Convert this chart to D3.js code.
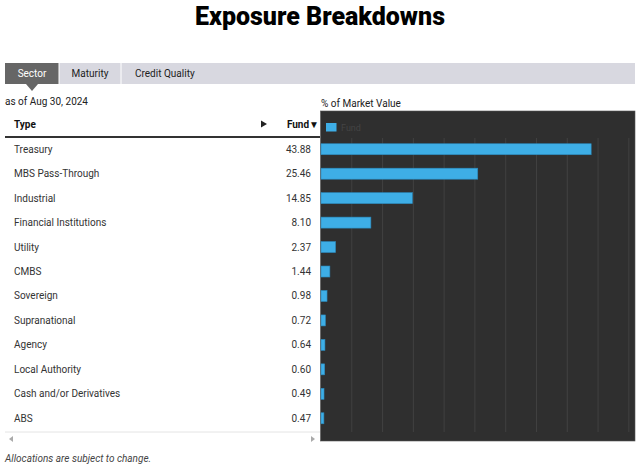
<!DOCTYPE html>
<html>
<head>
<meta charset="utf-8">
<script src="https://cdn.jsdelivr.net/npm/d3@7"></script>
<style>
  body { margin: 0; background: #fff; }
  svg text { font-family: Roboto, "Open Sans", sans-serif; }
</style>
</head>
<body>
<div class="exposure-chart"></div>
<script>
// data
const categories = ["Treasury", "MBS Pass-Through", "Industrial", "Financial Institutions", "Utility", "CMBS",
  "Sovereign", "Supranational", "Agency", "Local Authority", "Cash and/or Derivatives", "ABS"];
const fundValues = [43.88, 25.46, 14.85, 8.10, 2.37, 1.44, 0.98, 0.72, 0.64, 0.60, 0.49, 0.47];
const tabs = ["Sector", "Maturity", "Credit Quality"];
const gridTicks = [5, 10, 15, 20, 25, 30, 35, 40, 45, 50];

let outerWidth = 640, outerHeight = 466;
let svg = d3.select('.exposure-chart').append('svg')
  .attr('width', outerWidth)
  .attr('height', outerHeight);

// title
svg.append('text')
  .attr('x', 320).attr('y', 24.5)
  .attr('text-anchor', 'middle')
  .attr('font-size', 25).attr('font-weight', 900)
  .attr('fill', '#000')
  .text('Exposure Breakdowns');

// tab bar
svg.append('rect').attr('x', 5).attr('y', 63).attr('width', 630).attr('height', 21).attr('fill', '#d8d8e0');
const tabEdges = [5, 59, 121, 220];
tabs.forEach((t, i) => {
  let x0 = tabEdges[i], x1 = tabEdges[i + 1];
  if (i == 0) {
    svg.append('rect').attr('x', x0).attr('y', 63).attr('width', x1 - x0).attr('height', 21).attr('fill', '#666');
    svg.append('path').attr('d', `M${(x0 + x1) / 2 - 6},84 L${(x0 + x1) / 2 + 6},84 L${(x0 + x1) / 2},91 Z`).attr('fill', '#666');
  } else {
    svg.append('line').attr('x1', x0).attr('x2', x0).attr('y1', 63).attr('y2', 84).attr('stroke', '#fff');
  }
  svg.append('text')
    .attr('x', i == 2 ? x0 + 14 : (x0 + x1) / 2).attr('y', 77)
    .attr('text-anchor', i == 2 ? 'start' : 'middle')
    .attr('font-size', 10)
    .attr('fill', i == 0 ? '#fff' : '#222')
    .text(t);
});

svg.append('text').attr('x', 5).attr('y', 104.5).attr('font-size', 10).attr('fill', '#222').text('as of Aug 30, 2024');
svg.append('text').attr('x', 321).attr('y', 107).attr('font-size', 10).attr('fill', '#222').text('% of Market Value');

// scales
const yRow = d3.scaleBand().domain(categories).range([137, 430.5]);
const xScale = d3.scaleLinear().domain([0, 51]).range([321, 635]);
const barH = 11;

// table
svg.append('text').attr('x', 14).attr('y', 128).attr('font-size', 10).attr('font-weight', 700).attr('fill', '#111').text('Type');
svg.append('path').attr('d', 'M261,120.5 L267,124 L261,127.5 Z').attr('fill', '#222');
svg.append('text').attr('x', 319).attr('y', 128).attr('text-anchor', 'end').attr('font-size', 10).attr('font-weight', 700).attr('fill', '#111').text('Fund\u25BC');
svg.append('line').attr('x1', 5).attr('x2', 320).attr('y1', 137).attr('y2', 137).attr('stroke', '#333').attr('stroke-width', 2);

svg.selectAll('.row-label').data(categories).enter().append('text')
  .attr('class', 'row-label')
  .attr('x', 14)
  .attr('y', d => yRow(d) + yRow.bandwidth() / 2 + 3.5)
  .attr('font-size', 10).attr('fill', '#333')
  .text(d => d);

svg.selectAll('.row-value').data(fundValues).enter().append('text')
  .attr('class', 'row-value')
  .attr('x', 311)
  .attr('y', (d, i) => yRow(categories[i]) + yRow.bandwidth() / 2 + 3.5)
  .attr('text-anchor', 'end')
  .attr('font-size', 10).attr('fill', '#333')
  .text(d => d.toFixed(2));

// scroll bar under the table
svg.append('line').attr('x1', 5).attr('x2', 320).attr('y1', 432).attr('y2', 432).attr('stroke', '#e4e4e4');
svg.append('path').attr('d', 'M9,439 L13,436 L13,442 Z').attr('fill', '#aaa');
svg.append('path').attr('d', 'M315,439 L311,436 L311,442 Z').attr('fill', '#aaa');

svg.append('text').attr('x', 5).attr('y', 462).attr('font-size', 10).attr('font-style', 'italic').attr('fill', '#444')
  .text('Allocations are subject to change.');

// chart panel
svg.append('rect').attr('x', 320.5).attr('y', 111).attr('width', 314.5).attr('height', 330)
  .attr('fill', '#2f2f2f').attr('stroke', '#555').attr('stroke-width', 0.6);

svg.append('g').selectAll('line').data(gridTicks).enter().append('line')
  .attr('x1', d => xScale(d)).attr('x2', d => xScale(d))
  .attr('y1', 138).attr('y2', 432)
  .attr('stroke', '#414141').attr('stroke-width', 1);

svg.append('rect').attr('x', 326).attr('y', 123).attr('width', 10.5).attr('height', 8.5).attr('fill', '#3eaee6');
svg.append('text').attr('x', 341).attr('y', 131).attr('font-size', 9).attr('fill', '#444').text('Fund');

svg.selectAll('.bar').data(fundValues).enter().append('rect')
  .attr('class', 'bar')
  .attr('x', xScale(0))
  .attr('y', (d, i) => yRow(categories[i]) + (yRow.bandwidth() - barH) / 2)
  .attr('width', d => xScale(d) - xScale(0))
  .attr('height', barH)
  .attr('fill', '#3eaee6')
  .attr('stroke', '#2a88bb').attr('stroke-width', 0.6);
</script>
</body>
</html>
